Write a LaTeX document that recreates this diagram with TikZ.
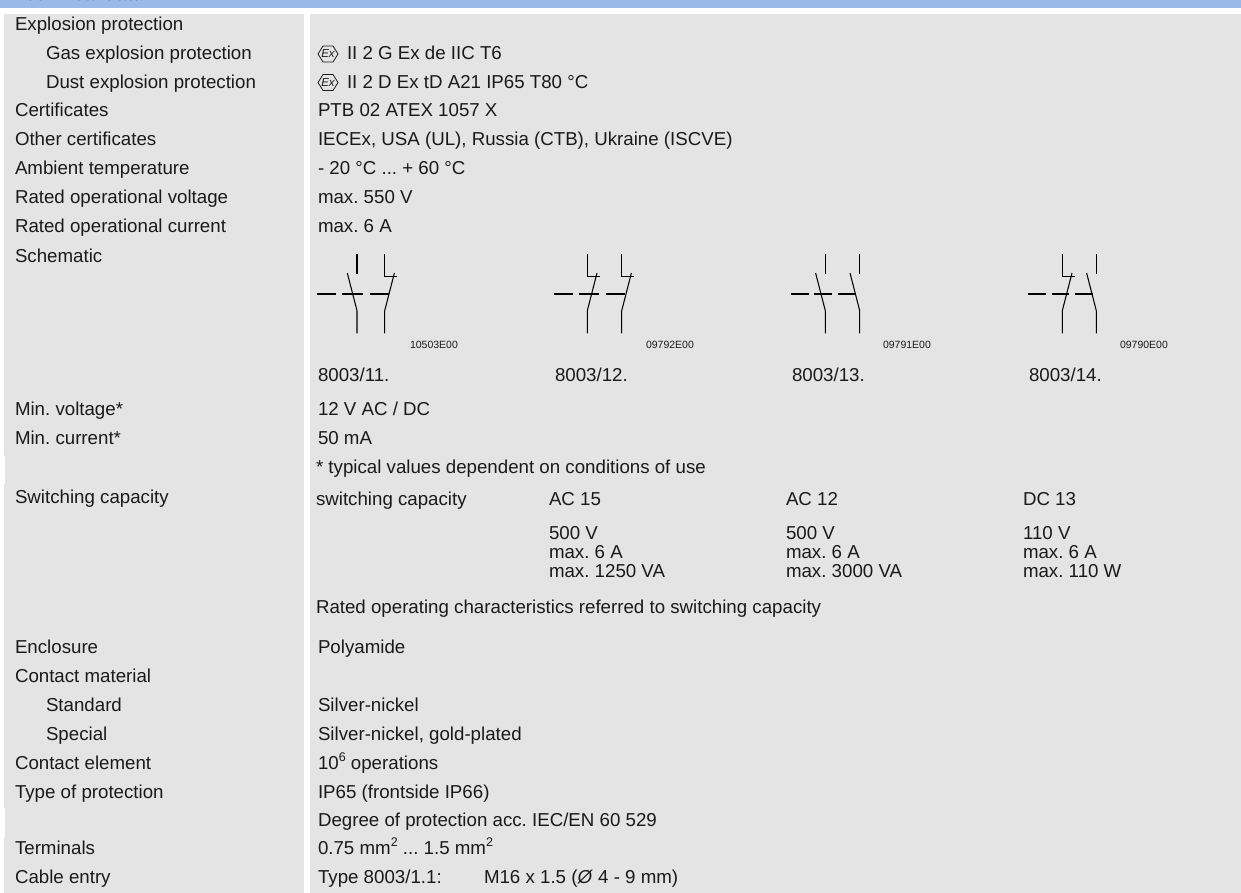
\documentclass[tikz,border=0pt]{standalone}
\usepackage{fontspec}
\setmainfont{Liberation Sans}
\frenchspacing
\definecolor{hdr}{HTML}{9AB8E8}
\definecolor{panel}{HTML}{E4E4E4}
\definecolor{ink}{HTML}{1A1A1A}
\newcommand{\maintext}{\fontsize{18.7}{20}\selectfont}
\newcommand{\lbl}[4]{\node[lab] (#1) at (#2,#3) {#4};}
\newcommand{\code}[4]{\node[codelab] (#1) at (#2,#3) {#4};}
\newcommand{\supr}[1]{\raisebox{0.38em}{\fontsize{12.5}{12.5}\selectfont #1}}
\tikzset{
  lab/.style={anchor=base west,inner sep=0pt,outer sep=0pt,text=ink,font=\maintext},
  codelab/.style={anchor=base west,inner sep=0pt,outer sep=0pt,text=ink,font=\fontsize{10.5}{12}\selectfont},
  wire/.style={draw=black,line width=1.05pt},
  exmark/.pic={
    \draw[line width=0.8pt,ink,line join=round] (-10,0)--(-5,-8)--(5,-8)--(10,0)--(5,8)--(-5,8)--cycle;
    \node[inner sep=0pt,text=ink,font=\fontsize{11.5}{11.5}\selectfont\itshape] at (0,0) {Ex};
  },
  nocontact/.pic={
    \draw[wire] (0,-40.7)--(0,-21.3);
    \draw[wire] (-9.7,-22)--(0,15.7)--(0,38.3);
  },
  nccontact/.pic={
    \draw[wire] (0,-40.7)--(0,-18.3)--(12.6,-18.3);
    \draw[wire] (9.7,-22)--(0,15.7)--(0,38.3);
  },
}
\begin{document}
\begin{tikzpicture}[x=1pt,y=-1pt]
\useasboundingbox (0,0) rectangle (1241,893);
\fill[white] (0,0) rectangle (1241,893);
\fill[hdr] (0,0) rectangle (1241,8);
\begin{scope}
\clip (0,0) rectangle (1241,8);
\node[lab,font=\fontsize{18.7}{20}\selectfont\bfseries] (title) at (15,1) {Technical data};
\end{scope}
\fill[panel] (4,14) rectangle (304,893);
\fill[panel] (310,14) rectangle (1241,893);
\fill[white] (4,455) rectangle (5,484);
\fill[white] (4,807) rectangle (5,837);
% left column
\lbl{a1}{15}{30.5}{Explosion protection}
\lbl{a2}{46}{59.5}{Gas explosion protection}
\lbl{a3}{46}{88.5}{Dust explosion protection}
\lbl{a4}{15}{117}{Certificates}
\lbl{a5}{15}{146}{Other certificates}
\lbl{a6}{15}{175}{Ambient temperature}
\lbl{a7}{15}{204}{Rated operational voltage}
\lbl{a8}{15}{233}{Rated operational current}
\lbl{a9}{15}{262}{Schematic}
\lbl{a10}{15}{415}{Min. voltage*}
\lbl{a11}{15}{444}{Min. current*}
\lbl{a12}{15}{503}{Switching capacity}
\lbl{a13}{15}{653}{Enclosure}
\lbl{a14}{15}{682}{Contact material}
\lbl{a15}{46}{711}{Standard}
\lbl{a16}{46}{740}{Special}
\lbl{a17}{15}{769}{Contact element}
\lbl{a18}{15}{798}{Type of protection}
\lbl{a19}{15}{854}{Terminals}
\lbl{a20}{15}{883}{Cable entry}
% right column
\pic at (328,54) {exmark};
\pic at (328,82.5) {exmark};
\lbl{b1}{347}{59.5}{II 2 G Ex de IIC T6}
\lbl{b2}{347}{88.5}{II 2 D Ex tD A21 IP65 T80 °C}
\lbl{b3}{318}{117}{PTB 02 ATEX 1057 X}
\lbl{b4}{318}{146}{IECEx, USA (UL), Russia (CTB), Ukraine (ISCVE)}
\lbl{b5}{318}{175}{- 20 °C ... + 60 °C}
\lbl{b6}{318}{204}{max. 550 V}
\lbl{b7}{318}{233}{max. 6 A}
% schematics
\foreach \a/\b in {316.7/336,342.3/363.3,370/389,554/572.7,579.3/599,606/625,791/809,814.3/832.3,838/856,1028/1046,1051.7/1069.3,1075/1092.7}
  \draw[wire] (\a,294)--(\b,294);
\pic at (357,295) {nocontact};
\pic at (384.7,295) {nccontact};
\pic at (587.3,295) {nccontact};
\pic at (621.7,295) {nccontact};
\pic at (825.3,295) {nocontact};
\pic at (859.7,295) {nocontact};
\pic at (1062.3,295) {nccontact};
\pic at (1096.3,295) {nocontact};
\code{c1}{410}{348}{10503E00}
\code{c2}{646}{348}{09792E00}
\code{c3}{883}{348}{09791E00}
\code{c4}{1120}{348}{09790E00}
\lbl{d1}{318}{381}{8003/11.}
\lbl{d2}{555}{381}{8003/12.}
\lbl{d3}{792}{381}{8003/13.}
\lbl{d4}{1029}{381}{8003/14.}
\lbl{b8}{318}{415}{12 V AC / DC}
\lbl{b9}{318}{444}{50 mA}
\lbl{b10}{316}{473}{* typical values dependent on conditions of use}
\lbl{e1}{316}{505}{switching capacity}
\lbl{e2}{549}{505}{AC 15}
\lbl{e3}{786}{505}{AC 12}
\lbl{e4}{1023}{505}{DC 13}
\lbl{f1}{549}{539}{500 V}
\lbl{f2}{549}{558}{max. 6 A}
\lbl{f3}{549}{577}{max. 1250 VA}
\lbl{g1}{786}{539}{500 V}
\lbl{g2}{786}{558}{max. 6 A}
\lbl{g3}{786}{577}{max. 3000 VA}
\lbl{h1}{1023}{539}{110 V}
\lbl{h2}{1023}{558}{max. 6 A}
\lbl{h3}{1023}{577}{max. 110 W}
\lbl{b11}{316}{613}{Rated operating characteristics referred to switching capacity}
\lbl{b12}{318}{653}{Polyamide}
\lbl{b13}{318}{711}{Silver-nickel}
\lbl{b14}{318}{740}{Silver-nickel, gold-plated}
\lbl{b15}{318}{769}{10\supr{6} operations}
\lbl{b16}{318}{798}{IP65 (frontside IP66)}
\lbl{b17}{318}{826}{Degree of protection acc. IEC/EN 60 529}
\lbl{b18}{318}{854}{0.75 mm\supr{2} ... 1.5 mm\supr{2}}
\lbl{b19}{318}{883}{Type 8003/1.1:}
\lbl{b20}{484}{883}{M16 x 1.5 (\textit{Ø} 4 - 9 mm)}
\end{tikzpicture}
\end{document}
